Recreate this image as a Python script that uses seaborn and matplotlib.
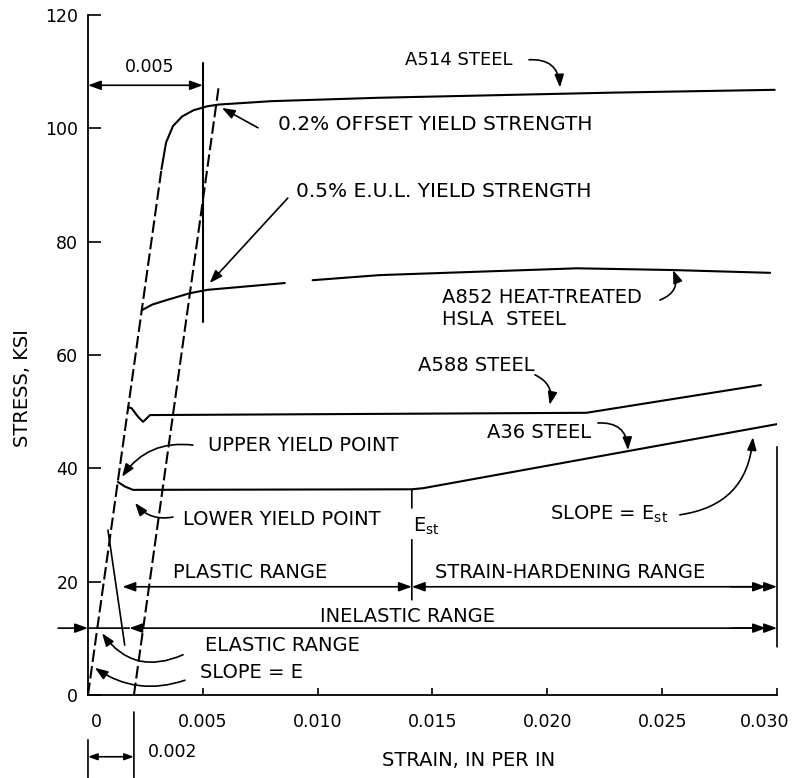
import numpy as np
import pandas as pd
import seaborn as sns
import matplotlib.pyplot as plt
from matplotlib.transforms import ScaledTranslation

# ---- values (strain in in/in, stress in ksi) ----
elastic_strain = [0, 0.0032]
elastic_stress = [0, 92.8]

offset_strain = [0.002, 0.00569]      # 0.2% offset line, parallel to E
offset_stress = [0, 107.3]

eul_strain = [0.005, 0.005]           # 0.5% E.U.L. line
eul_stress = [65.8, 111.5]

a514_strain = [0.0032, 0.0034, 0.0037, 0.0041, 0.0046, 0.0052, 0.0057,
               0.0080, 0.0127, 0.0228, 0.0299]
a514_stress = [92.8, 97.5, 100.4, 102.1, 103.2, 103.9, 104.2,
               104.8, 105.4, 106.3, 106.8]

a852_strain = [0.00234, 0.0028, 0.00343, 0.00443, 0.0052, 0.00857, np.nan,
               0.00978, 0.0127, 0.0213, 0.0254, 0.0297]
a852_stress = [67.9, 68.9, 69.7, 70.9, 71.5, 72.7, np.nan,
               73.2, 74.1, 75.3, 75.0, 74.5]

a588_strain = [0.00175, 0.0019, 0.00218, 0.0024, 0.0027, 0.0217, 0.0293]
a588_stress = [50.8, 50.6, 49.1, 48.2, 49.4, 49.8, 54.7]

a36_strain = [0.0013, 0.0016, 0.00196, 0.0141, 0.0146, 0.0300]
a36_stress = [37.6, 36.8, 36.2, 36.3, 36.5, 47.8]

x_ticks = [0, 0.005, 0.010, 0.015, 0.020, 0.025, 0.030]
x_ticklabels = ["0", "0.005", "0.010", "0.015", "0.020", "0.025", "0.030"]
y_ticks = [0, 20, 40, 60, 80, 100, 120]

sns.set_style("ticks")
plt.rcParams["font.family"] = ["DejaVu Sans"]
plt.rcParams["mathtext.default"] = "regular"
for key in ["text.color", "axes.labelcolor", "xtick.color", "ytick.color", "axes.edgecolor"]:
    plt.rcParams[key] = "black"

fig = plt.figure(figsize=(7.94, 7.78), dpi=100)
ax = fig.add_axes([0.1108, 0.1067, 0.8678, 0.874])

# ---- curves ----
line_kw = dict(color="black", linewidth=1.5, estimator=None, sort=False, ax=ax)
sns.lineplot(x=elastic_strain, y=elastic_stress, linestyle=(0, (6, 2)), **line_kw)
sns.lineplot(x=offset_strain, y=offset_stress, linestyle=(0, (6, 2)), **line_kw)
sns.lineplot(x=eul_strain, y=eul_stress, **line_kw)
sns.lineplot(x=a514_strain, y=a514_stress, **line_kw)
sns.lineplot(x=a588_strain, y=a588_stress, **line_kw)
sns.lineplot(x=a36_strain, y=a36_stress, **line_kw)

a852 = pd.DataFrame({"strain": a852_strain, "stress": a852_stress})
a852["piece"] = a852["strain"].isna().cumsum()
sns.lineplot(data=a852.dropna(), x="strain", y="stress", units="piece", **line_kw)

# ---- axes ----
ax.set_xlim(0, 0.030)
ax.set_ylim(0, 120)
sns.despine(ax=ax)
for s in ["left", "bottom"]:
    ax.spines[s].set_linewidth(1.3)
ax.set_xticks(x_ticks)
ax.set_xticklabels(x_ticklabels)
ax.set_yticks(y_ticks)
ax.tick_params(axis="y", direction="in", length=9, width=1.2, pad=7, labelsize=12.5)
ax.tick_params(axis="x", direction="in", length=5, width=1.2, pad=13, labelsize=12.5)
xlabels = ax.get_xticklabels()
xlabels[0].set_transform(xlabels[0].get_transform() + ScaledTranslation(6 / 72, 0, fig.dpi_scale_trans))
xlabels[-1].set_transform(xlabels[-1].get_transform() + ScaledTranslation(-9 / 72, 0, fig.dpi_scale_trans))
ax.set_xlabel("STRAIN, IN PER IN", fontsize=14)
ax.set_ylabel("STRESS, KSI", fontsize=14)
ax.xaxis.set_label_coords(0.553, -0.082)
ax.yaxis.set_label_coords(-0.081, 0.451)

# ---- annotations ----
def arrow(xy, xytext, rad=0.0, style="-|>", scale=14):
    ax.annotate("", xy=xy, xytext=xytext, annotation_clip=False,
                arrowprops=dict(arrowstyle=style + ",head_length=0.55,head_width=0.2",
                                color="black", lw=1.2, shrinkA=0, shrinkB=0,
                                mutation_scale=scale,
                                connectionstyle=f"arc3,rad={rad}"))

def seg(x0, y0, x1, y1):
    ax.annotate("", xy=(x1, y1), xytext=(x0, y0), annotation_clip=False,
                arrowprops=dict(arrowstyle="-", color="black", lw=1.2,
                                shrinkA=0, shrinkB=0))

def label(x, y, s, size=14, ha="left"):
    ax.text(x, y, s, fontsize=size, ha=ha, va="center", clip_on=False)

label(0.0138, 112.1, "A514 STEEL", size=13)
arrow((0.02055, 107.2), (0.0192, 112.1), rad=-0.5)

label(0.00827, 100.6, "0.2% OFFSET YIELD STRENGTH", size=14.5)
arrow((0.00583, 103.6), (0.0074, 100.1))

label(0.00904, 88.8, "0.5% E.U.L. YIELD STRENGTH", size=14.5)
arrow((0.0053, 72.7), (0.0087, 87.7))

arrow((0.005, 107.6), (0, 107.6), style="<|-|>")
label(0.0027, 110.8, "0.005", size=12.5, ha="center")

label(0.01541, 70.2, "A852 HEAT-TREATED")
label(0.01541, 66.2, "HSLA  STEEL")
arrow((0.02547, 75.0), (0.0249, 69.7), rad=0.5)

label(0.01435, 58.2, "A588 STEEL")
arrow((0.0201, 51.2), (0.01946, 56.5), rad=-0.4)

label(0.01737, 46.4, "A36 STEEL")
arrow((0.02351, 43.2), (0.0222, 48.0), rad=-0.5)

label(0.00522, 44.1, "UPPER YIELD POINT")
arrow((0.00148, 38.5), (0.00457, 44.1), rad=0.3)

label(0.00414, 30.9, "LOWER YIELD POINT")
arrow((0.00205, 33.9), (0.0037, 31.4), rad=-0.3)

label(0.01413, 29.8, r"E$_{st}$")
seg(0.0141, 36.3, 0.0141, 33.0)
seg(0.0141, 27.4, 0.0141, 16.8)

label(0.0201, 31.8, r"SLOPE = E$_{st}$")
arrow((0.02895, 45.5), (0.02577, 31.8), rad=0.4)

seg(0.030, 43.8, 0.030, 8.5)

# ranges
label(0.0037, 21.7, "PLASTIC RANGE")
arrow((0.0141, 19.1), (0.0015, 19.1), style="<|-|>")
label(0.0151, 21.7, "STRAIN-HARDENING RANGE")
arrow((0.030, 19.1), (0.0141, 19.1), style="<|-|>")
arrow((0.02952, 19.1), (0.028, 19.1))

label(0.0101, 13.8, "INELASTIC RANGE")
arrow((0, 11.8), (-0.0013, 11.8))
seg(0, 11.8, 0.0018, 11.8)
arrow((0.030, 11.8), (0.0018, 11.8), style="<|-|>")
arrow((0.02952, 11.8), (0.028, 11.8))

label(0.0051, 8.8, "ELASTIC RANGE")
arrow((0.00061, 10.9), (0.00414, 7.1), rad=-0.4)

label(0.00488, 3.9, "SLOPE = E")
arrow((0.0003, 4.8), (0.00422, 2.6), rad=-0.25)

seg(0.00087, 29.1, 0.0016, 8.8)

# 0.002 offset dimension below the axis
seg(0, -7.9, 0, -14.6)
seg(0.002, -3.0, 0.002, -14.6)
arrow((0.002, -10.9), (0, -10.9), style="<|-|>", scale=10)
label(0.0026, -10.1, "0.002", size=12.5)

fig.savefig("out.png", dpi=100)
